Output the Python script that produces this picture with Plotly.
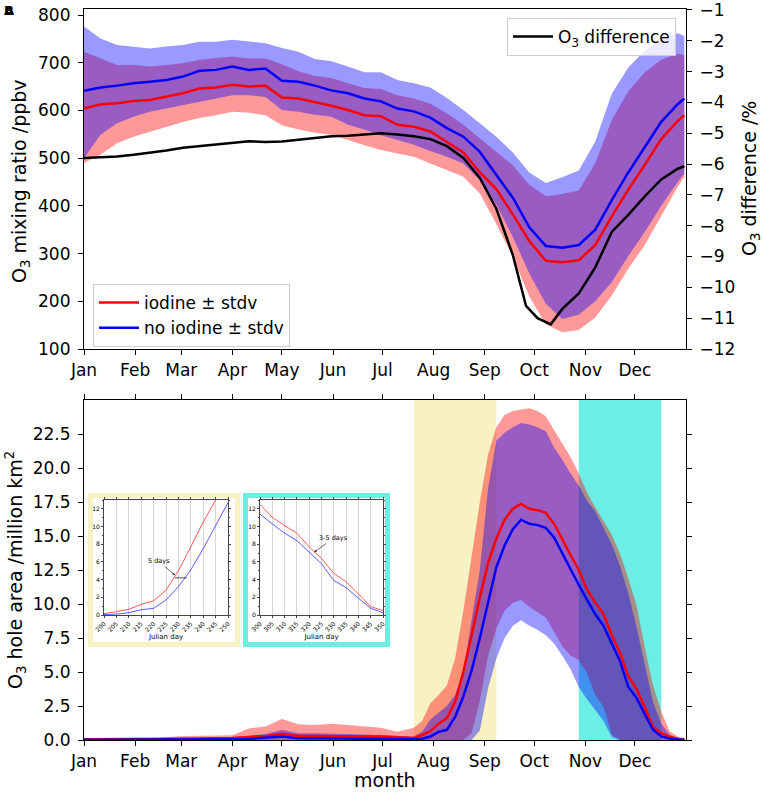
import plotly.graph_objects as go

# ---------------- data ----------------
months = ['Jan', 'Feb', 'Mar', 'Apr', 'May', 'Jun', 'Jul', 'Aug', 'Sep', 'Oct', 'Nov', 'Dec']
month_start = [0, 31, 59, 90, 120, 151, 181, 212, 243, 273, 304, 334]

# panel A: O3 mixing ratio (ppbv), sampled every 10 days
top_days = [0, 10, 20, 30, 40, 50, 60, 70, 80, 90, 100, 110, 120, 130, 140, 150, 160, 170, 180,
            190, 200, 210, 220, 230, 240, 250, 260, 270, 280, 290, 300, 310, 320, 330, 340, 350, 360, 364]
io_o3 = [604, 613, 615, 620, 622, 629, 636, 646, 648, 654, 650, 652, 627, 625, 618, 610, 601, 590, 588,
         570, 566, 556, 534, 512, 470, 435, 382, 326, 285, 282, 286, 318, 378, 434, 486, 540, 578, 590]
io_o3_hi = [723, 709, 695, 695, 692, 695, 699, 706, 709, 713, 709, 709, 697, 682, 672, 668, 657, 647, 645,
            632, 625, 614, 594, 570, 541, 512, 485, 444, 420, 425, 432, 490, 580, 640, 680, 706, 719, 716]
io_o3_lo = [490, 507, 531, 545, 555, 566, 576, 584, 590, 597, 595, 590, 569, 560, 553, 549, 538, 527, 517,
            510, 503, 489, 475, 461, 426, 362, 293, 210, 152, 135, 140, 166, 212, 268, 318, 380, 440, 461]
noi_o3 = [641, 648, 652, 657, 660, 664, 671, 683, 685, 692, 685, 688, 662, 660, 652, 642, 636, 625, 619,
          604, 598, 585, 563, 545, 513, 466, 417, 355, 316, 312, 318, 350, 412, 470, 522, 576, 613, 625]
noi_o3_hi = [776, 751, 737, 734, 730, 734, 737, 744, 744, 748, 744, 741, 731, 723, 708, 703, 692, 680, 680,
             664, 657, 648, 626, 601, 573, 545, 512, 470, 448, 460, 474, 535, 635, 690, 725, 750, 762, 756]
noi_o3_lo = [500, 549, 573, 587, 597, 604, 611, 618, 625, 632, 632, 628, 601, 597, 591, 587, 570, 560, 548,
             538, 528, 515, 503, 489, 454, 403, 335, 258, 195, 163, 172, 200, 240, 295, 345, 400, 450, 468]

diff_days = [0, 10, 20, 30, 40, 50, 60, 70, 80, 90, 100, 110, 120, 130, 140, 150, 160, 170, 180, 190,
             200, 210, 220, 230, 240, 250, 260, 268, 275, 283, 290, 300, 310, 320, 330, 340, 350, 360, 364]
diff_pct = [-5.80, -5.78, -5.75, -5.70, -5.64, -5.56, -5.47, -5.42, -5.37, -5.31, -5.26, -5.28, -5.27,
            -5.21, -5.16, -5.10, -5.08, -5.04, -5.00, -5.04, -5.10, -5.19, -5.42, -5.80, -6.45, -7.45,
            -8.95, -10.6, -11.0, -11.2, -10.7, -10.2, -9.35, -8.2, -7.65, -7.05, -6.5, -6.15, -6.07]

# panel B: O3 hole area (million km2)
area_days = [0, 30, 60, 90, 100, 110, 120, 130, 140, 150, 160, 170, 180, 190,
             200, 205, 210, 215, 220, 225, 230, 235, 240, 245, 250, 255, 260, 265, 270, 275, 280,
             285, 290, 295, 300, 305, 310, 315, 320, 325, 330, 335, 340, 345, 350, 355, 360, 364]
io_area = [0.05, 0.05, 0.1, 0.15, 0.2, 0.3, 0.45, 0.3, 0.3, 0.3, 0.3, 0.25, 0.25, 0.2,
           0.15, 0.37, 0.64, 1.2, 1.6, 2.8, 5.0, 7.7, 10.5, 13.0, 14.8, 16.2, 17.0, 17.35, 17.0, 16.9, 16.7,
           15.9, 14.7, 13.6, 12.5, 11.05, 10.1, 9.25, 7.7, 6.4, 4.7, 3.75, 2.4, 0.94, 0.5, 0.25, 0.1, 0.05]
io_area_hi = [0.05, 0.05, 0.3, 0.35, 0.85, 1.0, 1.55, 1.15, 1.1, 1.2, 1.1, 1.0, 0.9, 0.6,
              0.9, 1.4, 2.7, 3.3, 4.0, 6.0, 9.5, 13.5, 17.5, 21.0, 23.0, 23.9, 24.2, 24.3, 24.4, 24.2, 23.8,
              22.8, 21.8, 20.8, 19.6, 18.2, 17.1, 16.1, 15.1, 13.7, 11.9, 9.9, 6.8, 4.0, 2.1, 0.65, 0.25, 0.05]
io_area_lo = [0, 0, 0, 0, 0, 0, 0, 0, 0, 0, 0, 0, 0, 0,
              0, 0, 0, 0, 0, 0, 0, 0.5, 2.9, 6.2, 8.2, 9.5, 10.1, 10.3, 9.8, 9.4, 9.0,
              7.9, 6.9, 6.2, 5.9, 4.9, 3.3, 2.45, 0.4, 0, 0, 0, 0, 0, 0, 0, 0, 0]
noi_area = [0.02, 0.02, 0.03, 0.05, 0.08, 0.15, 0.25, 0.12, 0.12, 0.12, 0.12, 0.1, 0.1, 0.08,
            0.05, 0.1, 0.26, 0.6, 0.75, 1.7, 3.2, 5.1, 7.5, 10.1, 12.7, 14.3, 15.5, 16.2, 15.9, 15.8, 15.6,
            14.9, 13.7, 12.6, 11.4, 10.3, 9.25, 8.4, 7.1, 5.8, 3.9, 3.1, 1.9, 0.75, 0.26, 0.1, 0.03, 0.02]
noi_area_hi = [0.02, 0.02, 0.1, 0.15, 0.3, 0.45, 0.75, 0.5, 0.5, 0.5, 0.45, 0.4, 0.35, 0.3,
               0.25, 0.6, 1.5, 2.0, 2.5, 3.3, 5.0, 8.8, 12.5, 18.5, 22.0, 22.6, 23.0, 23.3, 23.2, 23.0, 22.7,
               21.5, 20.6, 19.6, 18.7, 17.6, 16.8, 15.6, 14.4, 12.8, 10.8, 8.3, 5.6, 2.8, 1.2, 0.4, 0.1, 0.02]
noi_area_lo = [0, 0, 0, 0, 0, 0, 0, 0, 0, 0, 0, 0, 0, 0,
               0, 0, 0, 0, 0, 0, 0, 0, 0.7, 3.8, 6.0, 7.5, 8.4, 8.8, 8.4, 8.1, 7.7,
               7.1, 6.2, 5.2, 3.9, 3.0, 2.2, 1.4, 0.2, 0, 0, 0, 0, 0, 0, 0, 0, 0]

# shaded periods (Julian day) shown in the insets
span1 = [200, 250]
span2 = [300, 350]

YELLOW = '#f7f1c4'
CYAN = '#6deee4'
RED_FILL = 'rgba(255,0,0,0.4)'
BLUE_FILL = 'rgba(0,0,255,0.4)'

# ---------------- figure ----------------
W, H = 763, 793
ML, MR, MT, MB = 84, 77, 9, 53
PW, PH = W - ML - MR, H - MT - MB


def px_x(px):
    return (px - ML) / PW


def px_y(py):
    return (H - MB - py) / PH


def band(x, hi, lo, color, xa, ya):
    return go.Scatter(x=x + x[::-1], y=hi + lo[::-1], fill='toself', fillcolor=color,
                      line=dict(width=0), mode='lines', hoverinfo='skip', showlegend=False,
                      xaxis=xa, yaxis=ya)


fig = go.Figure()

# panel A
fig.add_trace(band(top_days, io_o3_hi, io_o3_lo, RED_FILL, 'x', 'y'))
fig.add_trace(band(top_days, noi_o3_hi, noi_o3_lo, BLUE_FILL, 'x', 'y'))
fig.add_trace(go.Scatter(x=top_days, y=io_o3, mode='lines', line=dict(color='red', width=2.5),
                         name='iodine ± stdv', legend='legend', xaxis='x', yaxis='y'))
fig.add_trace(go.Scatter(x=top_days, y=noi_o3, mode='lines', line=dict(color='blue', width=2.5),
                         name='no iodine ± stdv', legend='legend', xaxis='x', yaxis='y'))
fig.add_trace(go.Scatter(x=diff_days, y=diff_pct, mode='lines', line=dict(color='black', width=2.5),
                         name='O<sub>3</sub> difference', legend='legend2', xaxis='x', yaxis='y2'))

# panel B
fig.add_trace(band(area_days, io_area_hi, io_area_lo, RED_FILL, 'x2', 'y3'))
fig.add_trace(band(area_days, noi_area_hi, noi_area_lo, BLUE_FILL, 'x2', 'y3'))
fig.add_trace(go.Scatter(x=area_days, y=io_area, mode='lines', line=dict(color='red', width=2.5),
                         showlegend=False, xaxis='x2', yaxis='y3'))
fig.add_trace(go.Scatter(x=area_days, y=noi_area, mode='lines', line=dict(color='blue', width=2.5),
                         showlegend=False, xaxis='x2', yaxis='y3'))

# insets (zoom on the two shaded periods)
for xa, ya in [('x3', 'y4'), ('x4', 'y5')]:
    fig.add_trace(go.Scatter(x=area_days, y=io_area, mode='lines', line=dict(color='#ff3030', width=0.8),
                             showlegend=False, xaxis=xa, yaxis=ya))
    fig.add_trace(go.Scatter(x=area_days, y=noi_area, mode='lines', line=dict(color='#3030ff', width=0.8),
                             showlegend=False, xaxis=xa, yaxis=ya))

axis_common = dict(showline=True, linecolor='black', linewidth=1.2, ticks='outside', ticklen=5,
                   tickwidth=1.2, tickcolor='black', showgrid=False, zeroline=False, automargin=False,
                   ticklabeloverflow='allow')

inset_x = dict(showline=True, linecolor='#444', linewidth=0.8, mirror='ticks', ticks='outside',
               ticklen=2, tickcolor='#444', tickfont=dict(size=6), tickangle=-45,
               showgrid=True, gridcolor='#d6d6d6', gridwidth=0.8, zeroline=False, automargin=False,
               title=dict(text='Julian day', font=dict(size=7), standoff=0))
inset_y = dict(showline=True, linecolor='#444', linewidth=0.8, mirror='ticks', ticks='outside',
               ticklen=2, tickcolor='#444', tickfont=dict(size=6), showgrid=False, zeroline=False,
               automargin=False, range=[0, 13], tickvals=[0, 2, 4, 6, 8, 10, 12],
               minor=dict(ticks='outside', ticklen=1.5, dtick=1, tickcolor='#444'))

in_y0, in_y1 = px_y(615), px_y(500)

fig.update_layout(
    template='none',
    width=W, height=H,
    margin=dict(l=ML, r=MR, t=MT, b=MB),
    plot_bgcolor='white', paper_bgcolor='white',
    font=dict(family='DejaVu Sans', size=17, color='black'),
    xaxis=dict(axis_common, domain=[0, 1], anchor='y', range=[0, 365], tickvals=month_start,
               ticktext=months, mirror=True),
    yaxis=dict(axis_common, domain=[px_y(349), 1], anchor='x', range=[100, 812.6], dtick=100,
               ticklabelstandoff=4),
    yaxis2=dict(axis_common, overlaying='y', side='right', anchor='x', range=[-12, -0.968], dtick=1,
                ticklabelstandoff=4),
    xaxis2=dict(axis_common, domain=[0, 1], anchor='y3', range=[0, 365], tickvals=month_start,
                ticktext=months, mirror='ticks'),
    yaxis3=dict(axis_common, domain=[0, px_y(400)], anchor='x2', range=[0, 25],
                tickvals=[0, 2.5, 5, 7.5, 10, 12.5, 15, 17.5, 20, 22.5], tickformat='.1f', mirror='ticks',
                ticklabelstandoff=4),
    xaxis3=dict(inset_x, domain=[px_x(104), px_x(228)], anchor='y4', range=[200, 250],
                tickvals=[200, 205, 210, 215, 220, 225, 230, 235, 240, 245, 250]),
    yaxis4=dict(inset_y, domain=[in_y0, in_y1], anchor='x3'),
    xaxis4=dict(inset_x, domain=[px_x(260), px_x(383)], anchor='y5', range=[300, 350],
                tickvals=[300, 305, 310, 315, 320, 325, 330, 335, 340, 345, 350]),
    yaxis5=dict(inset_y, domain=[in_y0, in_y1], anchor='x4'),
    legend=dict(x=px_x(93), y=px_y(284), xanchor='left', yanchor='top', bgcolor='rgba(255,255,255,0.8)',
                bordercolor='#cccccc', borderwidth=1, font=dict(size=17), itemwidth=40, tracegroupgap=0),
    legend2=dict(x=px_x(676), y=px_y(18), xanchor='right', yanchor='top', bgcolor='rgba(255,255,255,0.8)',
                 bordercolor='#cccccc', borderwidth=1, font=dict(size=17), itemwidth=40),
)

# axis titles placed as annotations so they sit exactly where the reference has them
axis_titles = [
    ('O<sub>3</sub> mixing ratio /ppbv', 20, 181, -90, 'middle'),
    ('O<sub>3</sub> difference /%', 751, 179, -90, 'middle'),
    ('O<sub>3</sub> hole area /million km<sup>2</sup>', 15, 570, -90, 'middle'),
    ('month', 385, 793, 0, 'bottom'),
]
for text, tx, ty, ang, yanc in axis_titles:
    fig.add_annotation(xref='paper', yref='paper', x=px_x(tx), y=px_y(ty), xanchor='center',
                       yanchor=yanc, text=text, textangle=ang, showarrow=False, font=dict(size=19))

# shaded periods in panel B
for (d0, d1), col in [(span1, YELLOW), (span2, CYAN)]:
    fig.add_shape(type='rect', xref='x2', yref='y3 domain', x0=d0, x1=d1, y0=0, y1=1,
                  fillcolor=col, line=dict(width=0), layer='below')

# inset frames
for (x0, x1), col in [((90.5, 237.5), YELLOW), ((245.5, 387.5), CYAN)]:
    fig.add_shape(type='rect', xref='paper', yref='paper', x0=px_x(x0), x1=px_x(x1),
                  y0=px_y(644.5), y1=px_y(495.5), fillcolor='white', line=dict(color=col, width=5),
                  layer='below')

# inset annotations
fig.add_shape(type='line', xref='x3', yref='y4', x0=228.6, x1=233.4, y0=4.2, y1=4.2,
              line=dict(color='#222', width=0.8))
fig.add_annotation(xref='x3', yref='y4', axref='x3', ayref='y4', x=228.6, y=4.5, ax=222, ay=6.1,
                   text='5 days', font=dict(size=6.5), showarrow=True, arrowhead=2, arrowsize=0.7,
                   arrowwidth=0.7, arrowcolor='#222')
fig.add_annotation(xref='x4', yref='y5', axref='x4', ayref='y5', x=322, y=7.1, ax=330, ay=8.7,
                   text='3-5 days', font=dict(size=6.5), showarrow=True, arrowhead=2, arrowsize=0.7,
                   arrowwidth=0.7, arrowcolor='#222')

# overlapping panel letters, as in the reference
for letter in ['A', 'B']:
    fig.add_annotation(xref='paper', yref='paper', x=px_x(2), y=px_y(1), xanchor='left', yanchor='top',
                       text='<b>' + letter + '</b>', showarrow=False, font=dict(size=13))

# drop the default page margin so the figure sits at the window's corner
fig.write_html("out.html", config={'displayModeBar': False},
               post_script="document.body.style.margin='0';")
